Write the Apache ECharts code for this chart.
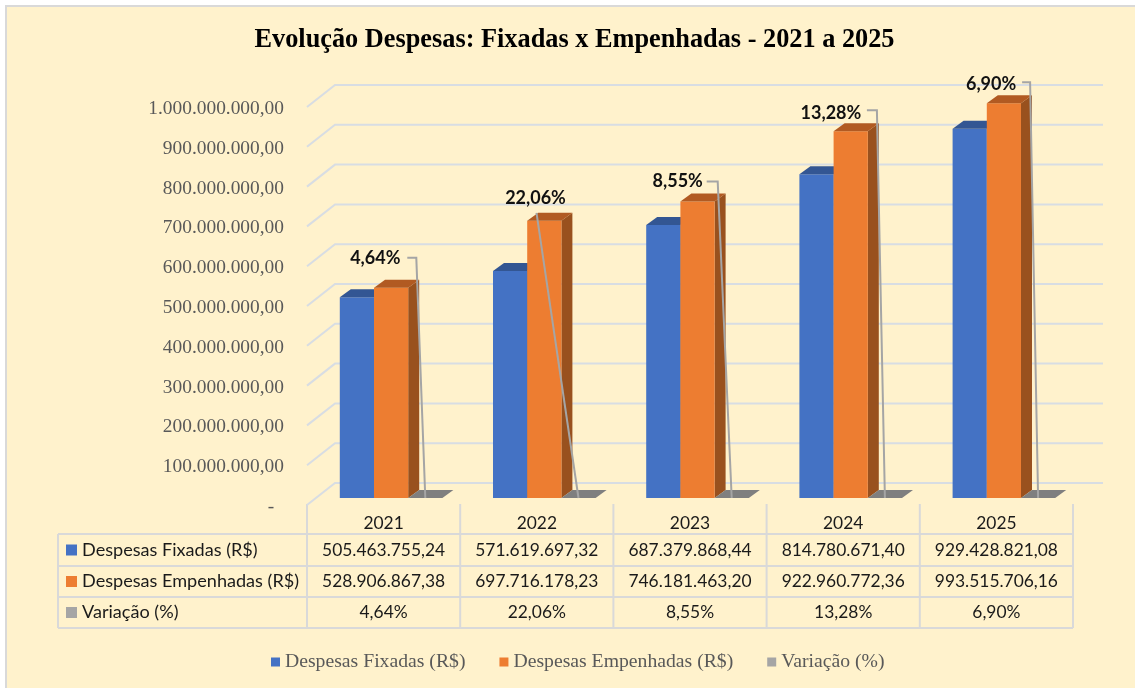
<!DOCTYPE html>
<html>
<head>
<meta charset="utf-8">
<title>Evolução Despesas</title>
<script src="https://cdn.jsdelivr.net/npm/echarts@6/dist/echarts.min.js"></script>
<style>
  html, body { margin: 0; padding: 0; background: #fff; }
  #main { width: 1135px; height: 688px; }
</style>
</head>
<body>
<div id="main"></div>
<script>
var categories = ["2021", "2022", "2023", "2024", "2025"];
var fixadas = [505463755.24, 571619697.32, 687379868.44, 814780671.40, 929428821.08];
var empenhadas = [528906867.38, 697716178.23, 746181463.20, 922960772.36, 993515706.16];
var variacao = [4.64, 22.06, 8.55, 13.28, 6.90];
var yTicks = [0, 100000000, 200000000, 300000000, 400000000, 500000000, 600000000, 700000000, 800000000, 900000000, 1000000000];
var rowNames = ["Despesas Fixadas (R$)", "Despesas Empenhadas (R$)", "Variação (%)"];

// layout of the fake 3d and of the table
var colors = { fix: "#4472C4", emp: "#ED7D31", vari: "#A5A5A5", grid: "#D8DDE3", table: "#D9D9D9", ink: "#1a1a1a" };
var barW = 34.2, depthX = 11, depthY = 8, wallX = 28, wallY = 22;
var offFix = -43.8, offEmp = -9.6, offVar = 24.6;
var rowY = [534, 566, 597, 628];
var tableX = [58, 307, 460.2, 613.4, 766.6, 919.8, 1073];
// leader line: elbow offset from gray bar centre / orange bar top, label offset from elbow
var leaders = [
  { dx: -9, dy: -30, gap: 9, lx: -41, ly: 0 },
  { dx: -42, dy: -8, gap: 0, lx: -1, ly: -15 },
  { dx: -14, dy: -20, gap: 11, lx: -40, ly: 0 },
  { dx: -8, dy: -21, gap: 10, lx: -46, ly: 3 },
  { dx: -8, dy: -21, gap: 8, lx: -39, ly: 2 }
];

function money(n) {
  return n.toLocaleString("pt-BR", { minimumFractionDigits: 2, maximumFractionDigits: 2 });
}
function pct(n) {
  return n.toFixed(2).replace(".", ",") + "%";
}
function rows(arr) {
  return arr.map(function (v, i) { return [categories[i], v]; });
}

// one box: front face, top and right side, all from the axis scale
function cuboid(offset, front, top, side) {
  return function (params, api) {
    var base = api.coord([api.value(0), 0]);
    var tip = api.coord([api.value(0), api.value(1)]);
    var x0 = base[0] + offset, x1 = x0 + barW, y0 = base[1], y1 = tip[1];
    var kids = [];
    if (y0 - y1 > 0.5) {
      kids.push({ type: "polygon", shape: { points: [[x1, y1], [x1 + depthX, y1 - depthY], [x1 + depthX, y0 - depthY], [x1, y0]] }, style: { fill: side } });
      kids.push({ type: "rect", shape: { x: x0, y: y1, width: barW, height: y0 - y1 }, style: { fill: front } });
    }
    kids.push({ type: "polygon", shape: { points: [[x0, y1], [x1, y1], [x1 + depthX, y1 - depthY], [x0 + depthX, y1 - depthY]] }, style: { fill: top } });
    return { type: "group", children: kids };
  };
}

function renderWall(params, api) {
  var p = api.coord([0, api.value(0)]);
  var cs = params.coordSys;
  return {
    type: "polyline",
    shape: { points: [[cs.x, p[1]], [cs.x + wallX, p[1] - wallY], [cs.x + cs.width + wallX + 2, p[1] - wallY]] },
    style: { stroke: colors.grid, lineWidth: 2, fill: null }
  };
}

function renderLeader(params, api) {
  var i = params.dataIndex;
  var l = leaders[i];
  var end = api.coord([api.value(0), api.value(1)]);
  var top = api.coord([api.value(0), api.value(2)]);
  var cx = end[0] + offVar + barW / 2;
  var ex = cx + l.dx, ey = top[1] + l.dy;
  var pts = l.gap ? [[ex - l.gap, ey], [ex, ey], [cx, end[1]]] : [[ex, ey], [cx, end[1]]];
  return {
    type: "group",
    children: [
      { type: "polyline", shape: { points: pts }, style: { stroke: colors.vari, lineWidth: 2, fill: null } },
      { type: "text", style: { text: pct(api.value(1)), x: ex + l.lx, y: ey + l.ly, align: "center", verticalAlign: "middle", font: "bold 18px Lato", fill: "#111" } }
    ]
  };
}

function renderTable(params, api) {
  var i = params.dataIndex;
  var p = api.coord([i, 0]);
  var cells = [money(fixadas[i]), money(empenhadas[i]), pct(variacao[i])];
  return {
    type: "group",
    children: cells.map(function (t, r) {
      return { type: "text", style: { text: t, x: p[0], y: (rowY[r] + rowY[r + 1]) / 2, align: "center", verticalAlign: "middle", font: "17.4px Lato", fill: colors.ink } };
    })
  };
}

// table lines, row headers and page background
var graphics = [
  { type: "rect", shape: { x: 6, y: 6, width: 1135, height: 690 }, style: { fill: "#FFF2CC", stroke: "#D9D9D9", lineWidth: 2 }, z: -10 }
];
rowY.forEach(function (y) {
  graphics.push({ type: "line", shape: { x1: tableX[0], y1: y, x2: tableX[6], y2: y }, style: { stroke: colors.table, lineWidth: 2 } });
});
tableX.forEach(function (x, i) {
  graphics.push({ type: "line", shape: { x1: x, y1: i === 0 ? rowY[0] : 504, x2: x, y2: rowY[3] }, style: { stroke: colors.table, lineWidth: 2 } });
});
rowNames.forEach(function (name, r) {
  var cy = (rowY[r] + rowY[r + 1]) / 2;
  graphics.push({ type: "rect", shape: { x: 66, y: cy - 5.5, width: 11, height: 11 }, style: { fill: [colors.fix, colors.emp, colors.vari][r] } });
  graphics.push({ type: "text", style: { text: name, x: 82, y: cy, verticalAlign: "middle", font: "18.1px Lato", fill: colors.ink } });
});

var chart = echarts.init(document.getElementById("main"));
chart.setOption({
  animation: false,
  title: {
    text: "Evolução Despesas: Fixadas x Empenhadas - 2021 a 2025",
    left: 569.5,
    top: 22,
    textAlign: "center",
    textStyle: { fontFamily: "Liberation Serif", fontWeight: "bold", fontSize: 26.3, color: "#000" }
  },
  legend: {
    left: 266,
    top: 647,
    itemWidth: 9,
    itemHeight: 9,
    itemGap: 34,
    icon: "rect",
    data: rowNames,
    textStyle: { fontFamily: "Liberation Serif", fontSize: 19.7, color: "#595959" }
  },
  graphic: graphics,
  grid: [
    { left: 307, width: 766, top: 107, height: 398 },
    { left: 307, width: 766, top: 100.7, height: 397.3 }
  ],
  xAxis: [
    { type: "category", gridIndex: 0, data: categories, show: false },
    {
      type: "category",
      gridIndex: 1,
      data: categories,
      axisLine: { show: false },
      axisTick: { show: false },
      axisLabel: { margin: 17, fontFamily: "Lato", fontSize: 17.4, color: colors.ink }
    }
  ],
  yAxis: [
    {
      type: "value",
      gridIndex: 0,
      min: 0,
      max: 1000000000,
      interval: 100000000,
      axisLine: { show: false },
      axisTick: { show: false },
      splitLine: { show: false },
      axisLabel: {
        margin: 23,
        formatter: function (v) { return "{a|" + (v === 0 ? "-  " : money(v)) + "}"; },
        rich: { a: { fontFamily: "Liberation Serif", fontSize: 19.4, color: "#595959", padding: [4, 0, 0, 0] } }
      }
    },
    { type: "value", gridIndex: 1, min: 0, max: 1000000000, interval: 100000000, show: false }
  ],
  series: [
    { type: "custom", name: "wall", xAxisIndex: 0, yAxisIndex: 0, data: yTicks, encode: { y: 0 }, renderItem: renderWall, silent: true },
    { type: "custom", name: rowNames[0], xAxisIndex: 1, yAxisIndex: 1, itemStyle: { color: colors.fix }, data: rows(fixadas), encode: { x: 0, y: 1 }, renderItem: cuboid(offFix, colors.fix, "#335693", "#2F5597") },
    { type: "custom", name: rowNames[1], xAxisIndex: 1, yAxisIndex: 1, itemStyle: { color: colors.emp }, data: rows(empenhadas), encode: { x: 0, y: 1 }, renderItem: cuboid(offEmp, colors.emp, "#B15A22", "#99511E") },
    { type: "custom", name: rowNames[2], xAxisIndex: 1, yAxisIndex: 1, itemStyle: { color: colors.vari }, data: rows(variacao), encode: { x: 0, y: 1 }, renderItem: cuboid(offVar, colors.vari, "#7F7F7F", "#7F7F7F") },
    {
      type: "custom",
      name: "leaders",
      xAxisIndex: 1,
      yAxisIndex: 1,
      data: categories.map(function (c, i) { return [c, variacao[i], empenhadas[i]]; }),
      encode: { x: 0, y: 1 },
      renderItem: renderLeader
    },
    { type: "custom", name: "table", xAxisIndex: 1, yAxisIndex: 1, data: rows(variacao), encode: { x: 0, y: 1 }, renderItem: renderTable }
  ]
});
</script>
</body>
</html>
